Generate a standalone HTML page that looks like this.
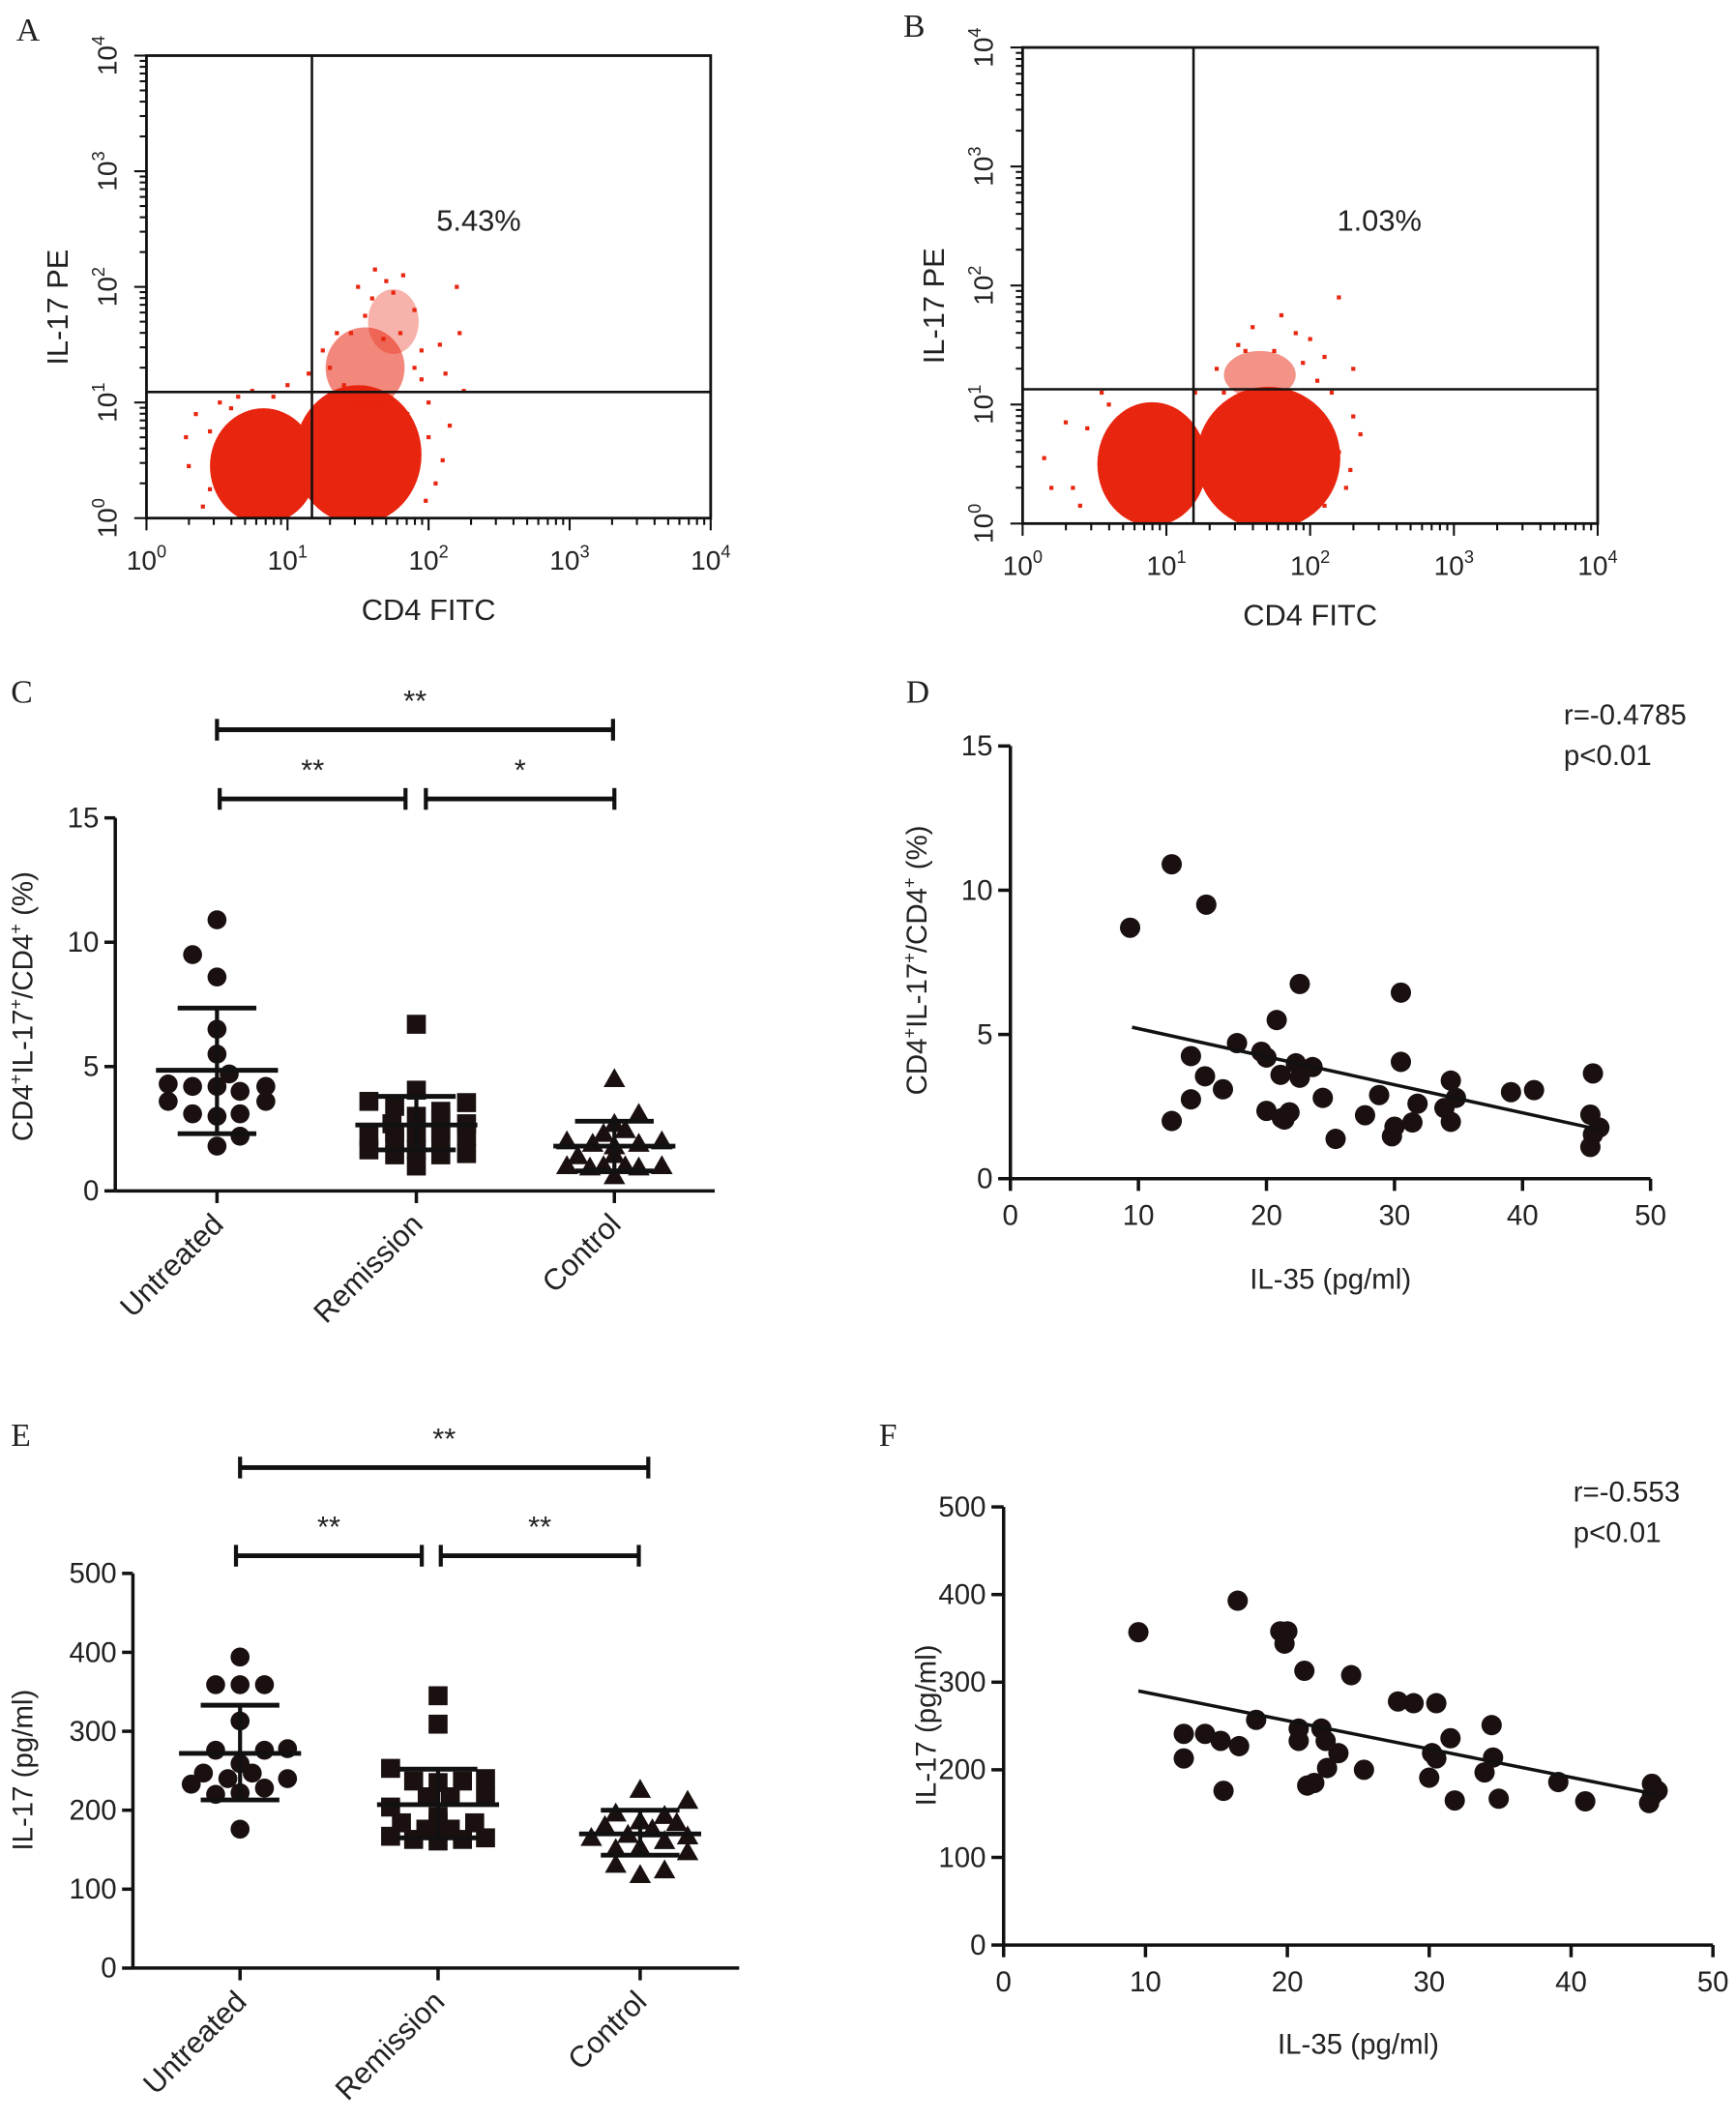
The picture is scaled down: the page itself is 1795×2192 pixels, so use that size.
<!DOCTYPE html>
<html><head><meta charset="utf-8"><style>
html,body{margin:0;padding:0;background:#fff}
svg{display:block}
text{font-family:"Liberation Sans",Arial,sans-serif;fill:#222}
.ser{font-family:"Liberation Serif",serif}
</style></head><body>
<svg id="fig" width="1795" height="2192" viewBox="0 0 1280 1563" preserveAspectRatio="none" xmlns="http://www.w3.org/2000/svg">
<rect width="1280" height="1563" fill="#fff"/>
</svg>
<script>
// ---------- DATA ----------
// Flow panels: dense cores [logX, logY, rxDecades, ryDecades, opacity]
const flowACores=[[0.83,0.45,0.38,0.5,1],[1.5,0.55,0.45,0.6,1],[1.55,1.3,0.28,0.35,0.55],[1.75,1.7,0.18,0.28,0.35]];
const flowASparse=[[0.3,0.45],[0.55,0.3],[0.45,0.75],[1.95,1.2],[2.08,1.5],[2.1,0.5],[1.9,1.8],[2.2,2.0],[1.75,1.95],[1.85,0.9],[0.4,0.1],[0.65,1.05],[1.0,1.15],[1.3,1.3],[2.0,1.0],[1.7,2.05],[1.55,1.75],[1.45,1.6],[2.15,0.8],[0.5,0.55],[1.8,1.6],[2.25,1.1],[0.35,0.9],[0.45,0.25],[0.6,0.95],[0.9,1.05],[1.15,1.25],[1.25,1.45],[1.35,1.6],[1.6,1.9],[1.82,2.1],[1.95,1.45],[2.0,0.7],[2.05,0.3],[1.98,0.15],[0.52,1.0],[0.75,1.1],[1.4,1.15],[1.68,1.55],[1.9,1.3],[2.12,1.25],[1.5,2.0],[1.62,2.15],[2.22,1.6],[0.28,0.7]];
const flowAPct="5.43%";
const flowBCores=[[0.9,0.5,0.38,0.52,1],[1.71,0.55,0.5,0.6,1],[1.65,1.25,0.25,0.2,0.5]];
const flowBSparse=[[0.15,0.55],[0.35,0.3],[0.45,0.8],[2.2,0.6],[2.3,0.9],[2.25,0.3],[1.9,1.6],[2.1,1.4],[2.2,1.9],[1.8,1.75],[2.3,1.3],[0.6,1.0],[1.2,1.1],[2.15,1.1],[1.5,1.5],[0.3,0.85],[0.4,0.15],[0.55,1.1],[2.28,0.45],[2.35,0.75],[2.1,0.15],[1.35,1.3],[1.55,1.45],[1.75,1.45],[1.95,1.35],[2.05,1.2],[1.4,1.1],[1.6,1.65],[2.0,1.55],[0.2,0.3]];
const flowBPct="1.03%";
const decadeLabels=["0","1","2","3","4"];

// Panel C
const catNames=["Untreated","Remission","Control"];
const cUntreated=[10.9,9.5,8.6,6.5,5.5,4.7,4.3,4.2,4.2,4.0,4.2,3.6,3.1,3.0,3.1,3.6,2.2,1.8];
const cUntreatedJit=[0,-18,0,0,0,9,-36,-18,0,17,36,-36,-18,0,17,36,17,0];
const cRemission=[6.7,3.6,4.05,3.4,3.2,3.55,3.0,2.7,2.9,2.7,2.2,2.1,2.35,2.1,2.2,1.65,1.45,1.65,1.45,1.5,1.0,2.35,2.35];
const cRemissionJit=[0,-35,0,-16,18,37,0,-18,18,37,-35,-16,0,18,37,-35,-16,0,18,37,0,-16,18];
const cControl=[4.5,3.1,2.3,2.45,2.7,2.0,1.9,1.9,2.0,1.8,1.4,1.45,1.0,0.95,1.0,1.0,0.95,1.0,0.6];
const cControlJit=[0,18,-8,8,0,-35,-16,18,35,0,-27,0,-35,-18,-8,8,18,35,0];
const cMean=[4.85,2.65,1.8], cSdLo=[2.3,1.65,0.8], cSdHi=[7.35,3.8,2.8];
const cTicks=[0,5,10,15];
const cSig=["**","**","*"];

// Panel D
const dX=[9.35,12.6,15.3,22.6,30.5,20.8,17.7,14.1,19.6,20.0,22.3,23.6,30.5,15.2,21.1,22.6,16.6,14.1,24.4,28.8,31.8,34.4,34.8,33.9,34.4,12.6,20.0,21.2,21.4,21.8,27.7,25.4,30.0,29.8,31.4,39.1,40.9,45.5,45.3,46.0,45.5,45.3];
const dY=[8.7,10.9,9.5,6.75,6.45,5.5,4.7,4.25,4.4,4.2,4.0,3.87,4.05,3.55,3.6,3.5,3.1,2.75,2.8,2.9,2.6,3.4,2.8,2.45,1.97,2.0,2.35,2.1,2.05,2.3,2.2,1.38,1.8,1.47,1.95,3.0,3.07,3.65,2.22,1.77,1.53,1.1];
const dFit=[[9.5,5.25],[46,1.7]];
const dXTicks=[0,10,20,30,40,50], dYTicks=[0,5,10,15];

// Panel E
const eUntreated=[394,359,359,359,313,276,276,278,259,247,247,233,240,240,220,228,222,176];
const eUntreatedJit=[0,-18,0,18,0,-18,18,35,0,-27,9,-36,-9,35,-18,18,0,0];
const eRemission=[345,309,253,237,235,237,240,217,204,217,217,192,184,184,167,163,161,163,165,176,176,185];
const eRemissionJit=[0,0,-35,-18,0,18,35,35,-35,-8,9,0,-27,27,-35,-18,0,18,35,-9,9,0];
const eControl=[226,212,196,193,180,186,184,165,176,167,169,161,151,153,147,131,118,124];
const eControlJit=[0,35,-18,18,-26,0,27,-36,9,35,-9,18,-18,0,35,-18,0,18];
const eMean=[272,207,170], eSdLo=[213,165,143], eSdHi=[333,252,200];
const eTicks=[0,100,200,300,400,500];
const eSig=["**","**","**"];

// Panel F
const fX=[9.5,16.5,19.5,20,19.8,21.2,24.5,27.8,28.9,30.5,17.8,20.8,22.4,34.4,12.7,14.2,15.3,16.6,20.8,22.7,31.5,23.6,30.2,30.5,34.5,12.7,22.8,25.4,33.9,30,39.1,21.4,21.9,15.5,31.8,34.9,41,45.7,46.1,45.5,45.7];
const fY=[357,393,358,358,344,313,308,278,276,276,257,247,247,251,241,241,233,227,233,233,236,219,219,213,214,213,202,200,197,191,186,182,185,176,165,167,164,184,176,162,170];
const fFit=[[9.5,290],[46,172]];
const fXTicks=[0,10,20,30,40,50], fYTicks=[0,100,200,300,400,500];

// ---------- DRAW ----------
const NS="http://www.w3.org/2000/svg";
const svg=document.getElementById('fig');
function mk(tag,attrs,parent){const e=document.createElementNS(NS,tag);for(const k in attrs)e.setAttribute(k,attrs[k]);(parent||svg).appendChild(e);return e;}
function txt(s,x,y,size,anchor,parent,extra){const t=mk('text',Object.assign({x:x,y:y,'font-size':size,'text-anchor':anchor||'middle'},extra||{}),parent);t.textContent=s;return t;}
function line(x1,y1,x2,y2,w,parent){return mk('line',{x1:x1,y1:y1,x2:x2,y2:y2,stroke:'#111','stroke-width':w},parent);}

function panelLabel(s,x,y){const t=txt(s,x,y,24,'start');t.setAttribute('class','ser');

}

function flowPanel(id,x0,x1,y0,y1,qx,qy,cores,sparse,pct,pctX,pctY,clipId){
  const g=mk('g',{});
  
  
  const sx=v=>x0+(x1-x0)*v/4, sy=v=>y1-(y1-y0)*v/4;
  const defs=mk('defs',{},g);const cp=mk('clipPath',{id:clipId},defs);mk('rect',{x:x0,y:y0,width:x1-x0,height:y1-y0},cp);
  const dots=mk('g',{'clip-path':'url(#'+clipId+')',fill:'#e8250f'},g);
  
  
  cores.forEach(c=>{const e=mk('ellipse',{cx:sx(c[0]),cy:sy(c[1]),rx:(x1-x0)*c[2]/4,ry:(y1-y0)*c[3]/4,'fill-opacity':c[4]},dots);
    
    });
  sparse.forEach(p=>{const r=mk('rect',{x:sx(p[0])-1.5,y:sy(p[1])-1.5,width:3,height:3},dots);
    
    });
  mk('rect',{x:x0,y:y0,width:x1-x0,height:y1-y0,fill:'none',stroke:'#111','stroke-width':2},g);
  line(sx(qx),y0,sx(qx),y1,1.8,g);line(x0,sy(qy),x1,sy(qy),1.8,g);
  for(let d=0;d<4;d++){for(let m=1;m<10;m++){const v=d+Math.log10(m);const L=m===1?9:5;
    line(sx(v),y1,sx(v),y1+L,1.5,g);line(x0,sy(v),x0-L,sy(v),1.5,g);}}
  line(sx(4),y1,sx(4),y1+9,1.5,g);line(x0,sy(4),x0-9,sy(4),1.5,g);
  decadeLabels.forEach((d,i)=>{const t=txt('',sx(i),y1+38,20,'middle',g);
    t.innerHTML='10<tspan font-size="13" dy="-9">'+d+'</tspan>';
    
    
    const ty=txt('',0,0,20,'middle',g,{transform:'translate('+(x0-22)+','+sy(i)+') rotate(-90)'});
    ty.innerHTML='10<tspan font-size="13" dy="-9">'+d+'</tspan>';
    
    });
  const xt=txt('CD4 FITC',(x0+x1)/2,y1+75,22,'middle',g);
  
  
  const yt=txt('IL-17 PE',0,0,22,'middle',g,{transform:'translate('+(x0-58)+','+((y0+y1)/2+15)+') rotate(-90)'});
  
  
  const pt=txt(pct,pctX,pctY,22,'middle',g);
  
  
}

function dotPlot(id,ax,yTop,yBot,xEnd,vmax,ticks,catX,groups,jits,means,sdLo,sdHi,yTitle,yTitleY,brk,sig){
  const g=mk('g',{});
  
  
  const sy=v=>yBot-(yBot-yTop)*v/vmax;
  line(ax,yTop,ax,yBot,2.5,g);line(ax,yBot,xEnd,yBot,2.5,g);
  ticks.forEach(t=>{line(ax-8,sy(t),ax,sy(t),2.5,g);const l=txt(String(t),ax-12,sy(t)+7,21,'end',g);
    
    });
  catX.forEach((cx,i)=>{line(cx,yBot,cx,yBot+9,2.5,g);
    const l=txt(catNames[i],0,0,22,'end',g,{transform:'translate('+(cx+6)+','+(yBot+26)+') rotate(-45)'});
    
    });
  const yt=txt('',0,0,21,'middle',g,{transform:'translate(24,'+yTitleY+') rotate(-90)'});
  yt.innerHTML=yTitle;
  
  
  groups.forEach((vals,gi)=>{const cx=catX[gi];
    const pg=mk('g',{fill:'#1a1010'},g);
    
    
    vals.forEach((v,k)=>{const x=cx+jits[gi][k],y=sy(v);let e;
      if(gi===0)e=mk('circle',{cx:x,cy:y,r:7},pg);
      else if(gi===1)e=mk('rect',{x:x-7,y:y-7,width:14,height:14},pg);
      else e=mk('polygon',{points:(x)+','+(y-8)+' '+(x-8)+','+(y+6)+' '+(x+8)+','+(y+6)},pg);
      
      });
    const m=line(cx-45,sy(means[gi]),cx+45,sy(means[gi]),3.5,g);
    
    
    line(cx,sy(sdLo[gi]),cx,sy(sdHi[gi]),3,g);
    line(cx-29,sy(sdLo[gi]),cx+29,sy(sdLo[gi]),3.5,g);
    line(cx-29,sy(sdHi[gi]),cx+29,sy(sdHi[gi]),3.5,g);
  });
  brk.forEach(b=>{const bg=mk('g',{},g);
    
    
    line(b[0],b[2],b[1],b[2],3.5,bg);line(b[0],b[2]-8,b[0],b[2]+8,3,bg);line(b[1],b[2]-8,b[1],b[2]+8,3,bg);
    const s=txt(sig[b[3]],(b[0]+b[1])/2,b[2]-14,22,'middle',bg);
    
    });
}

function scatter(id,ax,ay,xPer,xmax,yTop,ymax,xTicks,yTicks,X,Y,fit,yTitle,yTitleX,yTitleY,xTitle,xTitleY,rTxt,pTxt,rx,ry){
  const g=mk('g',{});
  
  
  const sx=v=>ax+xPer*v, sy=v=>ay-(ay-yTop)*v/ymax;
  line(ax,sy(ymax),ax,ay,2.5,g);line(ax,ay,sx(xmax),ay,2.5,g);
  yTicks.forEach(t=>{line(ax-9,sy(t),ax,sy(t),2.5,g);const l=txt(String(t),ax-13,sy(t)+7,21,'end',g);
    
    });
  xTicks.forEach(t=>{line(sx(t),ay,sx(t),ay+9,2.5,g);const l=txt(String(t),sx(t),ay+34,21,'middle',g);
    
    });
  const pg=mk('g',{fill:'#1a1010'},g);
  
  
  X.forEach((x,i)=>{const c=mk('circle',{cx:sx(x),cy:sy(Y[i]),r:7.5},pg);
    
    });
  const fl=line(sx(fit[0][0]),sy(fit[0][1]),sx(fit[1][0]),sy(fit[1][1]),2.5,g);
  
  
  const yt=txt('',0,0,21,'middle',g,{transform:'translate('+yTitleX+','+yTitleY+') rotate(-90)'});
  yt.innerHTML=yTitle;
  
  
  const xt=txt(xTitle,(ax+sx(xmax))/2,xTitleY,21,'middle',g);
  
  
  const r=txt(rTxt,rx,ry,21,'start',g);
  
  
  const p=txt(pTxt,rx,ry+30,21,'start',g);
  
  
}

const ratioTitle='CD4<tspan font-size="13" dy="-8">+</tspan><tspan dy="8">IL-17</tspan><tspan font-size="13" dy="-8">+</tspan><tspan dy="8">/CD4</tspan><tspan font-size="13" dy="-8">+</tspan><tspan dy="8"> (%)</tspan>';

panelLabel('A',12,30);panelLabel('B',666,27);panelLabel('C',8,518);panelLabel('D',668,518);panelLabel('E',8,1066);panelLabel('F',648,1066);

flowPanel('a',108,524,41,382,(230-108)/(524-108)*4,(382-289)/(382-41)*4,flowACores,flowASparse,flowAPct,353,170,'clipA');
flowPanel('b',754,1178,35,386,(880-754)/(1178-754)*4,(386-287)/(386-35)*4,flowBCores,flowBSparse,flowBPct,1017,170,'clipB');

dotPlot('c',85,603,878,527,15,cTicks,[160,307,453],[cUntreated,cRemission,cControl],[cUntreatedJit,cRemissionJit,cControlJit],cMean,cSdLo,cSdHi,ratioTitle,742,
  [[160,452,538,0],[162,299,589,1],[314,453,589,2]],cSig);
dotPlot('e',98,1160,1451,545,500,eTicks,[177,323,472],[eUntreated,eRemission,eControl],[eUntreatedJit,eRemissionJit,eControlJit],eMean,eSdLo,eSdHi,'IL-17 (pg/ml)',1305,
  [[177,478,1082,0],[174,311,1147,1],[325,471,1147,2]],eSig);

scatter('d',745,869,9.44,50,550,15,dXTicks,dYTicks,dX,dY,dFit,ratioTitle,683,708,'IL-35 (pg/ml)',950,'r=-0.4785','p<0.01',1153,534);
scatter('f',740,1434,10.46,50,1111,500,fXTicks,fYTicks,fX,fY,fFit,'IL-17 (pg/ml)',690,1272,'IL-35 (pg/ml)',1514,'r=-0.553','p<0.01',1160,1107);
</script>
</body></html>
